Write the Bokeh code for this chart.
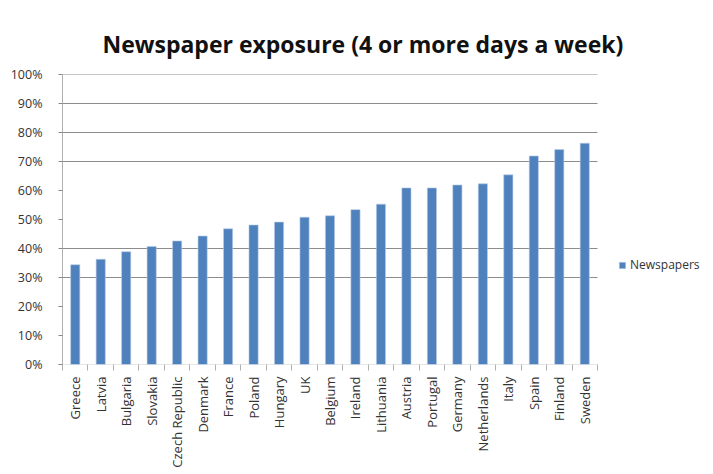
from bokeh.plotting import figure
from bokeh.models import FixedTicker, NumeralTickFormatter, Range1d, Legend, LegendItem, ColumnDataSource, Title
from bokeh.embed import file_html
from bokeh.resources import INLINE
import math

countries = ["Greece", "Latvia", "Bulgaria", "Slovakia", "Czech Republic", "Denmark", "France",
             "Poland", "Hungary", "UK", "Belgium", "Ireland", "Lithuania", "Austria", "Portugal",
             "Germany", "Netherlands", "Italy", "Spain", "Finland", "Sweden"]
newspapers = [0.344, 0.363, 0.389, 0.407, 0.426, 0.443, 0.468, 0.481, 0.491, 0.508, 0.513,
              0.534, 0.553, 0.609, 0.609, 0.619, 0.623, 0.654, 0.719, 0.741, 0.763]
y_ticks = [0.0, 0.1, 0.2, 0.3, 0.4, 0.5, 0.6, 0.7, 0.8, 0.9, 1.0]
grid_ticks = [0.3, 0.4, 0.7, 0.8, 0.9, 1.0]

n = len(countries)
idx = list(range(n))
src = ColumnDataSource(dict(x=idx, top=newspapers, name=countries))

# plot area 535 px for the categories, extra room on the right for the legend
cat_px = 535.0 / n
frame_w = 651
x_end = -0.5 + frame_w / cat_px

p = figure(frame_width=frame_w, frame_height=290, output_backend="svg", toolbar_location=None,
           x_range=Range1d(-0.5, x_end), y_range=Range1d(0, 1),
           min_border_left=62, min_border_right=0, min_border_top=74, min_border_bottom=110)
p.outline_line_color = None
p.background_fill_color = "white"
p.border_fill_color = "white"
p.xgrid.grid_line_color = None
p.ygrid.grid_line_color = None

# horizontal gridlines only across the category area
p.segment(x0=[-0.5] * len(grid_ticks), x1=[n - 0.5] * len(grid_ticks), y0=grid_ticks, y1=grid_ticks,
          line_color="#8C8C8C", line_width=1)
# baseline
p.segment(x0=[-0.5], x1=[n - 0.5], y0=[0], y1=[0], line_color="#D0D0D0", line_width=1)

r = p.vbar(x="x", top="top", bottom=0, width=0.36, source=src,
           fill_color="#4F81BD", line_color="#B9CDE5", line_width=0.6)

# title
t = Title(text="Newspaper exposure (4 or more days a week)", align="left",
          text_font="Open Sans", text_font_size="23px", text_font_style="bold",
          text_color="#111111", offset=40, standoff=30)
p.add_layout(t, "above")

label_font = "Open Sans"
# y axis
p.yaxis.ticker = FixedTicker(ticks=y_ticks)
p.yaxis.formatter = NumeralTickFormatter(format="0%")
p.yaxis.major_label_text_font = label_font
p.yaxis.major_label_text_font_size = "12.5px"
p.yaxis.major_label_text_color = "#333333"
p.yaxis.axis_line_color = "#B0B0B0"
p.yaxis.major_tick_line_color = "#888888"
p.yaxis.major_tick_out = 4
p.yaxis.major_tick_in = 0
p.yaxis.minor_tick_line_color = None
p.yaxis.major_label_standoff = 16

# x axis
boundaries = [i - 0.5 for i in range(n + 1)]
p.xaxis.ticker = FixedTicker(ticks=idx, minor_ticks=boundaries)
p.xaxis.major_label_overrides = {i: c for i, c in zip(idx, countries)}
p.xaxis.major_label_orientation = math.pi / 2
p.xaxis.major_label_text_font = label_font
p.xaxis.major_label_text_font_size = "13px"
p.xaxis.major_label_text_color = "#333333"
p.xaxis.major_tick_line_color = None
p.xaxis.minor_tick_line_color = "#B0B0B0"
p.xaxis.minor_tick_out = 6
p.xaxis.minor_tick_in = 0
p.xaxis.axis_line_color = None
p.xaxis.major_label_standoff = 6

legend = Legend(items=[LegendItem(label="Newspapers", renderers=[r])],
                location=(556, 91), border_line_color=None, background_fill_alpha=0,
                padding=0, margin=0, glyph_width=8, glyph_height=8, label_standoff=4,
                label_text_font=label_font, label_text_font_size="12px", label_text_color="#333333")
p.add_layout(legend, "center")

open("out.html", "w").write(file_html(p, INLINE))
